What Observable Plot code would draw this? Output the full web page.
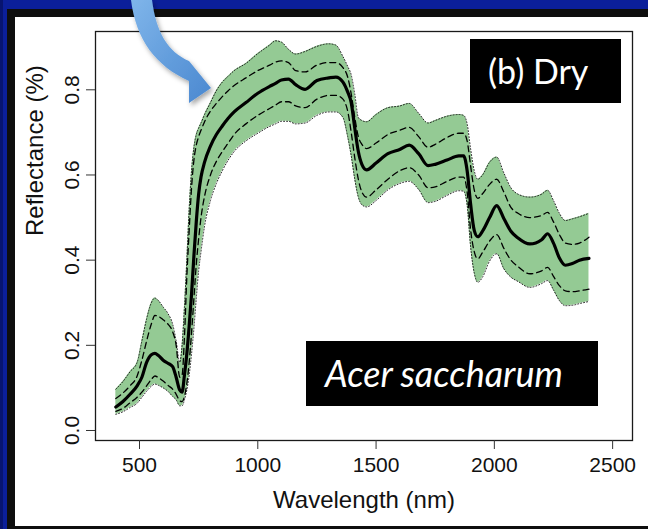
<!DOCTYPE html>
<html><head><meta charset="utf-8">
<script src="https://cdn.jsdelivr.net/npm/d3@7"></script>
<script src="https://cdn.jsdelivr.net/npm/@observablehq/plot@0.6"></script>
<style>
html,body{margin:0;padding:0;background:#0b1f9a;}
#page{position:relative;width:648px;height:529px;overflow:hidden;background:#0b1f9a;}
#edge{position:absolute;left:0;top:0;width:3px;height:529px;background:#071470;}
#frame{position:absolute;left:7px;top:9px;width:641px;height:520px;background:#0e0e0e;}
#panel{position:absolute;left:15px;top:17px;width:633px;height:509px;background:#fff;}
#chart{position:absolute;left:15px;top:17px;}
.box{position:absolute;background:#000;color:#fff;font-family:Lato,"Open Sans",sans-serif;font-size:34px;white-space:nowrap;}
#arrow{position:absolute;left:0;top:0;pointer-events:none;}
</style></head>
<body>
<div id="page">
  <div id="edge"></div>
  <div id="frame"></div>
  <div id="panel"></div>
  <div id="chart"></div>
  <div class="box" id="dry" style="left:470px;top:39px;width:151px;height:64px;line-height:64px;padding-left:18px;box-sizing:border-box;">(b) Dry</div>
  <div class="box" id="sp" style="left:306px;top:341px;width:292px;height:65px;line-height:65px;padding-left:19px;box-sizing:border-box;font-style:italic;font-size:36px;">Acer saccharum</div>
  <svg id="arrow" width="648" height="529">
    <defs>
      <linearGradient id="ag" x1="0" y1="0" x2="1" y2="1">
        <stop offset="0" stop-color="#7fb5ea"/>
        <stop offset="1" stop-color="#4a88d0"/>
      </linearGradient>
      <filter id="sh" x="-40%" y="-40%" width="180%" height="180%">
        <feDropShadow dx="2" dy="3" stdDeviation="2.5" flood-color="#000" flood-opacity="0.35"/>
      </filter>
    </defs>
    <path d="M131,0 C136,40 156,66 189,81 L189,103 L211,88 L189,61 C168,52 156,32 152,0 Z" fill="url(#ag)" filter="url(#sh)"/>
  </svg>
</div>
<script>
const wavelength = [400,430,460,490,510,530,550,565,580,600,620,640,655,670,680,690,700,710,720,730,740,750,760,775,800,825,850,875,900,950,1000,1050,1075,1100,1130,1160,1200,1250,1300,1330,1360,1380,1395,1410,1425,1440,1460,1500,1550,1600,1640,1680,1720,1750,1800,1850,1870,1885,1900,1915,1930,1950,1980,2010,2040,2070,2100,2150,2200,2225,2250,2275,2300,2330,2360,2400];

const meanRefl = [0.055,0.068,0.085,0.105,0.125,
 0.160,0.178,0.181,0.176,0.165,
 0.158,0.150,0.125,0.095,0.090,
 0.130,0.180,0.245,0.320,0.410,
 0.490,0.555,0.595,0.630,0.668,
 0.695,0.715,0.733,0.748,0.770,
 0.792,0.808,0.815,0.823,0.825,
 0.812,0.801,0.822,0.828,0.830,
 0.818,0.795,0.770,0.710,0.655,
 0.625,0.612,0.628,0.650,0.660,
 0.670,0.650,0.622,0.625,0.635,
 0.645,0.645,0.610,0.530,0.470,
 0.455,0.468,0.500,0.528,0.498,
 0.468,0.452,0.438,0.448,0.462,
 0.440,0.405,0.388,0.392,0.400,
 0.404];

const sdUpper = [0.075,0.088,0.105,0.128,0.165,
 0.210,0.250,0.270,0.268,0.260,
 0.250,0.232,0.200,0.125,0.130,
 0.220,0.360,0.470,0.570,0.635,
 0.670,0.690,0.705,0.725,0.750,
 0.768,0.784,0.798,0.810,0.828,
 0.845,0.858,0.865,0.868,0.864,
 0.845,0.842,0.858,0.864,0.864,
 0.852,0.830,0.790,0.735,0.690,
 0.672,0.662,0.675,0.695,0.705,
 0.712,0.690,0.665,0.672,0.688,
 0.698,0.698,0.680,0.620,0.565,
 0.545,0.556,0.578,0.590,0.560,
 0.524,0.510,0.500,0.505,0.512,
 0.490,0.460,0.440,0.437,0.440,
 0.454];

const sdLower = [0.045,0.052,0.065,0.078,0.090,
 0.105,0.120,0.128,0.124,0.116,
 0.106,0.097,0.085,0.070,0.068,
 0.080,0.110,0.160,0.230,0.310,
 0.390,0.450,0.500,0.550,0.600,
 0.632,0.655,0.675,0.695,0.720,
 0.740,0.756,0.764,0.772,0.772,
 0.762,0.758,0.778,0.787,0.787,
 0.778,0.750,0.700,0.640,0.590,
 0.560,0.548,0.565,0.590,0.610,
 0.617,0.600,0.570,0.572,0.585,
 0.595,0.595,0.560,0.470,0.420,
 0.403,0.418,0.445,0.460,0.428,
 0.400,0.385,0.368,0.375,0.383,
 0.362,0.340,0.328,0.326,0.328,
 0.332];

const bandUpper = [0.097,0.115,0.138,0.160,0.210,
 0.262,0.300,0.311,0.305,0.290,
 0.275,0.250,0.210,0.160,0.200,
 0.290,0.400,0.520,0.610,0.665,
 0.695,0.710,0.722,0.742,0.770,
 0.798,0.818,0.832,0.845,0.862,
 0.885,0.905,0.915,0.912,0.895,
 0.884,0.890,0.902,0.908,0.905,
 0.878,0.855,0.835,0.790,0.735,
 0.728,0.725,0.742,0.758,0.762,
 0.768,0.745,0.722,0.728,0.738,
 0.742,0.740,0.720,0.660,0.610,
 0.590,0.600,0.630,0.642,0.605,
 0.570,0.555,0.548,0.555,0.564,
 0.540,0.510,0.493,0.497,0.502,
 0.510];

const bandLower = [0.038,0.044,0.054,0.064,0.078,
 0.092,0.104,0.109,0.106,0.100,
 0.092,0.080,0.072,0.058,0.058,
 0.072,0.095,0.130,0.180,0.240,
 0.310,0.375,0.420,0.480,0.540,
 0.580,0.610,0.635,0.655,0.680,
 0.698,0.714,0.720,0.726,0.726,
 0.720,0.722,0.740,0.748,0.748,
 0.735,0.690,0.645,0.590,0.548,
 0.530,0.525,0.540,0.565,0.580,
 0.585,0.566,0.535,0.538,0.552,
 0.563,0.562,0.530,0.430,0.370,
 0.348,0.360,0.398,0.415,0.380,
 0.360,0.350,0.336,0.345,0.352,
 0.330,0.305,0.293,0.294,0.298,
 0.303];

const xTicks = [500,1000,1500,2000,2500];
const yTicks = [0.0,0.2,0.4,0.6,0.8];
const xLabel = "Wavelength (nm)";
const yLabel = "Reflectance (%)";

const rows = wavelength.map((w,i)=>({w, m:meanRefl[i], su:sdUpper[i], sl:sdLower[i], bu:bandUpper[i], bl:bandLower[i]}));

const curve = "monotone-x";
const chart = Plot.plot({
  width:633, height:509,
  marginLeft:80, marginRight:16, marginTop:14, marginBottom:86,
  x:{domain:[314,2584]},
  y:{domain:[-0.0235,0.9369]},
  style:{fontFamily:"'Liberation Sans', Arial, sans-serif", color:"#111", background:"#fff", overflow:"visible"},
  marks:[
    Plot.areaY(rows,{x:"w",y1:"bl",y2:"bu",fill:"#94ca94",curve}),
    Plot.lineY(rows,{x:"w",y:"bu",stroke:"#222",strokeWidth:1,strokeDasharray:"1,2",curve}),
    Plot.lineY(rows,{x:"w",y:"bl",stroke:"#222",strokeWidth:1,strokeDasharray:"1,2",curve}),
    Plot.lineY(rows,{x:"w",y:"su",stroke:"#000",strokeWidth:1.3,strokeDasharray:"6,4",curve}),
    Plot.lineY(rows,{x:"w",y:"sl",stroke:"#000",strokeWidth:1.3,strokeDasharray:"6,4",curve}),
    Plot.lineY(rows,{x:"w",y:"m",stroke:"#000",strokeWidth:3.2,curve}),
    Plot.frame({stroke:"#1a1a1a",strokeWidth:1.3}),
    Plot.axisX({ticks:xTicks,tickSize:9,tickPadding:8,label:null,fontSize:21,stroke:"#333",tickFormat:d=>String(d)}),
    Plot.axisY({ticks:yTicks,tickSize:9,label:null,stroke:"#333",tickFormat:()=>""}),
    Plot.text(yTicks,{y:d=>d,text:d=>d3.format(".1f")(d),frameAnchor:"left",rotate:-90,dx:-17,lineAnchor:"bottom",textAnchor:"middle",fontSize:21,fill:"#111"}),
    Plot.text([xLabel],{text:d=>d,frameAnchor:"bottom",dy:60,lineAnchor:"middle",fontSize:24,fill:"#111"}),
    Plot.text([yLabel],{text:d=>d,frameAnchor:"left",rotate:-90,dx:-60,lineAnchor:"middle",fontSize:24,fill:"#111"})
  ]
});
document.getElementById("chart").appendChild(chart);
</script>
</body></html>
